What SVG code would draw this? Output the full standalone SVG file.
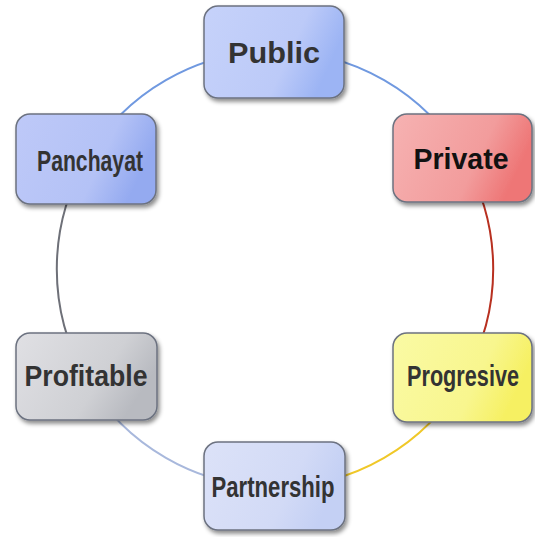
<svg xmlns="http://www.w3.org/2000/svg" width="535" height="537" viewBox="0 0 535 537">
<defs>
<filter id="sh" x="-20%" y="-20%" width="140%" height="150%">
<feDropShadow dx="2" dy="3" stdDeviation="2" flood-color="#000" flood-opacity="0.45"/>
</filter>
<linearGradient id="gBlue" x1="0" y1="0" x2="1" y2="0.3">
<stop offset="0" stop-color="#c6d2fa"/><stop offset="0.7" stop-color="#bccaf8"/><stop offset="1" stop-color="#9cb4f4"/>
</linearGradient>
<linearGradient id="gRed" x1="0" y1="0" x2="1" y2="0.3">
<stop offset="0" stop-color="#f6b2b2"/><stop offset="0.7" stop-color="#f29c9c"/><stop offset="1" stop-color="#ee7676"/>
</linearGradient>
<linearGradient id="gYel" x1="0" y1="0" x2="1" y2="0.3">
<stop offset="0" stop-color="#fafaa4"/><stop offset="0.7" stop-color="#f8f68e"/><stop offset="1" stop-color="#f6f062"/>
</linearGradient>
<linearGradient id="gLav" x1="0" y1="0" x2="1" y2="0.3">
<stop offset="0" stop-color="#dce2f8"/><stop offset="0.7" stop-color="#d2daf6"/><stop offset="1" stop-color="#c4d0f4"/>
</linearGradient>
<linearGradient id="gGray" x1="0" y1="0" x2="1" y2="0.4">
<stop offset="0" stop-color="#e0e0e4"/><stop offset="0.7" stop-color="#cfd0d4"/><stop offset="1" stop-color="#b8bac0"/>
</linearGradient>
<linearGradient id="gBlue2" x1="0" y1="0" x2="1" y2="0.3">
<stop offset="0" stop-color="#bec9f8"/><stop offset="0.7" stop-color="#b4c2f6"/><stop offset="1" stop-color="#94aaf0"/>
</linearGradient>
</defs>
<style>
.box{stroke:#6c7280;stroke-width:1.5;filter:url(#sh)}
.lbl{font-family:"Liberation Sans Narrow","Liberation Sans",Arial,sans-serif;font-weight:bold;font-size:30px;fill:#333;text-anchor:middle}
.arc{fill:none;stroke-width:2}
</style>
<g id="connectors">
<path class="arc" stroke="#7099e0" d="M275 51 A218 218 0 0 1 464 160"/>
<path class="arc" stroke="#b83020" d="M464 160 A218 218 0 0 1 464 378"/>
<path class="arc" stroke="#f0c828" d="M464 378 A218 218 0 0 1 275 487"/>
<path class="arc" stroke="#a8b8dc" d="M275 487 A218 218 0 0 1 86 378"/>
<path class="arc" stroke="#6e7078" d="M86 378 A218 218 0 0 1 86 160"/>
<path class="arc" stroke="#7099e0" d="M86 160 A218 218 0 0 1 275 51"/>
</g>
<g id="public">
<rect class="box" x="204" y="6" width="140" height="92" rx="14" fill="url(#gBlue)"/>
<text class="lbl" x="274" y="63" font-size="32" textLength="92" lengthAdjust="spacingAndGlyphs">Public</text>
</g>
<g id="private">
<rect class="box" x="393" y="114" width="139" height="88" rx="14" fill="url(#gRed)"/>
<text class="lbl" x="461" y="169" style="fill:#111" textLength="95" lengthAdjust="spacingAndGlyphs">Private</text>
</g>
<g id="progresive">
<rect class="box" x="393" y="333" width="139" height="89" rx="14" fill="url(#gYel)"/>
<text class="lbl" x="463" y="386" font-size="29" textLength="112" lengthAdjust="spacingAndGlyphs">Progresive</text>
</g>
<g id="partnership">
<rect class="box" x="204" y="442" width="141" height="88" rx="14" fill="url(#gLav)"/>
<text class="lbl" x="273" y="497" textLength="123" lengthAdjust="spacingAndGlyphs">Partnership</text>
</g>
<g id="profitable">
<rect class="box" x="16" y="333" width="141" height="87" rx="14" fill="url(#gGray)"/>
<text class="lbl" x="86" y="386" textLength="123" lengthAdjust="spacingAndGlyphs">Profitable</text>
</g>
<g id="panchayat">
<rect class="box" x="16" y="114" width="140" height="90" rx="14" fill="url(#gBlue2)"/>
<text class="lbl" x="90" y="171" textLength="106" lengthAdjust="spacingAndGlyphs">Panchayat</text>
</g>
</svg>
